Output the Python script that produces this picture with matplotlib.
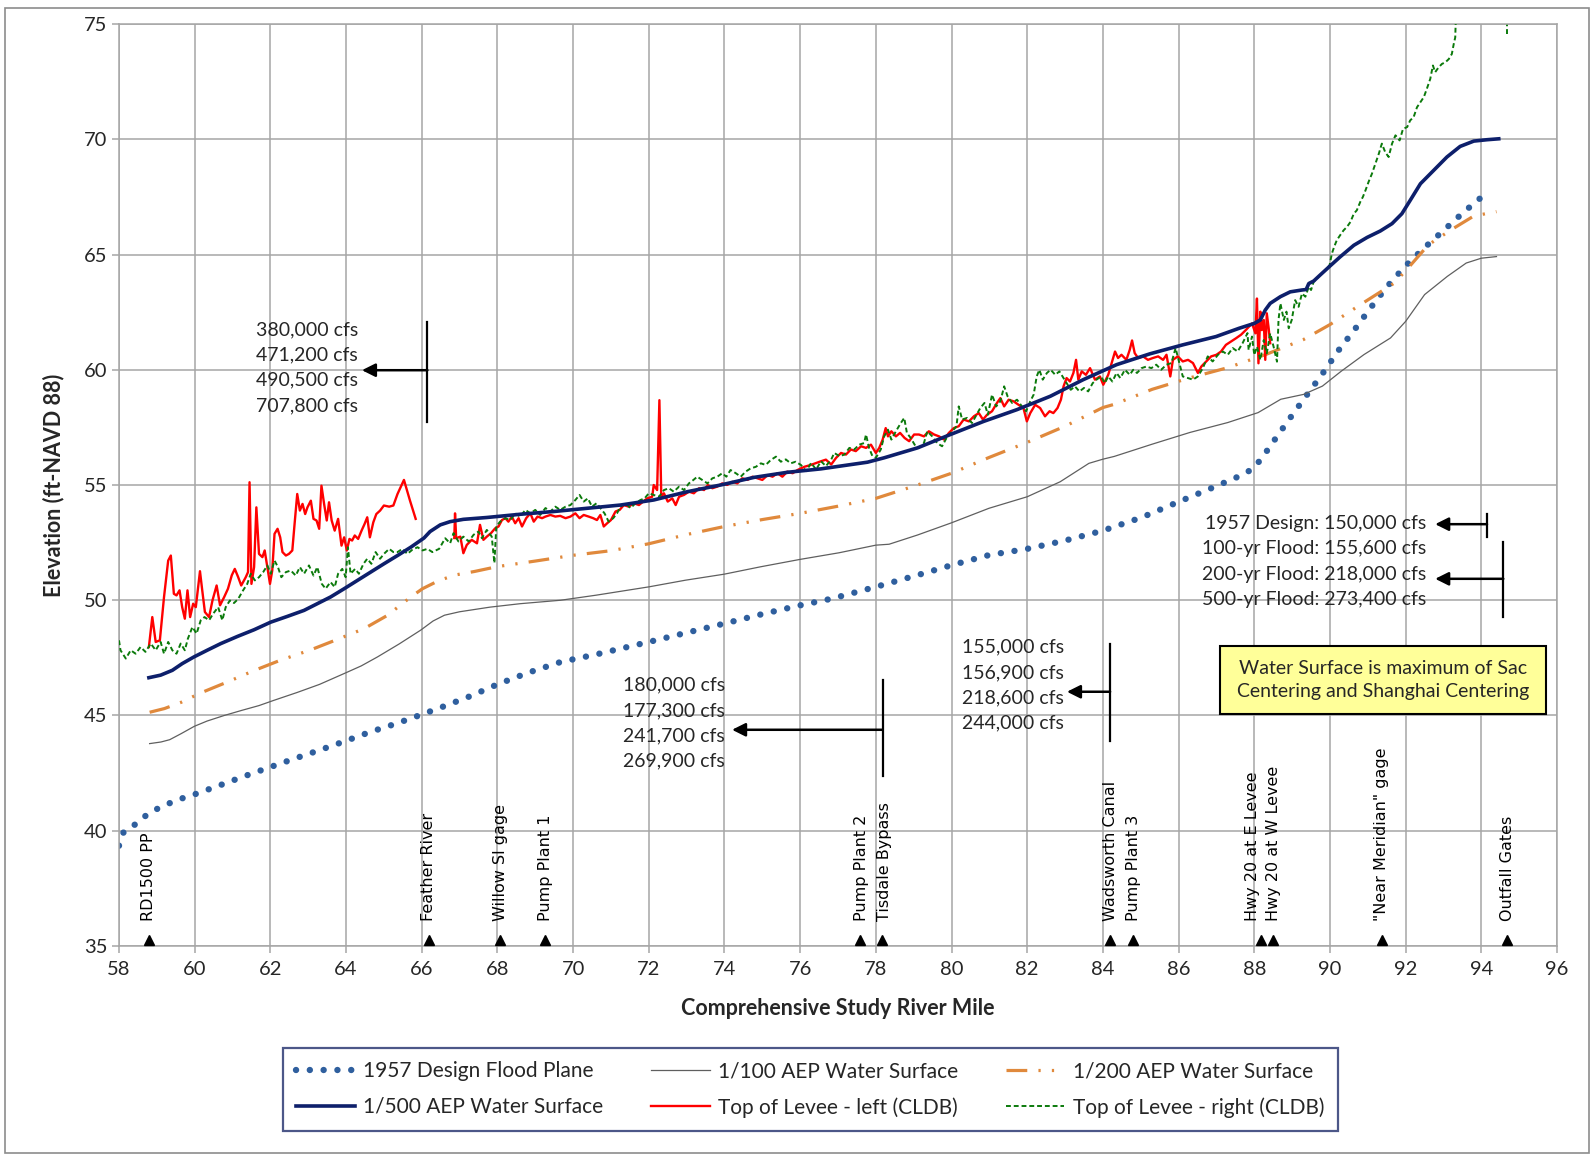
"""
Sutter Bypass water-surface profiles vs. levee crest (CLDB), river mile 58-96.
Flow callouts and site markers follow the original exhibit.
"""
import matplotlib
matplotlib.use("Agg")
import matplotlib.pyplot as plt
from matplotlib.patches import Rectangle

plt.rcParams["font.family"] = ["Lato", "DejaVu Sans"]

# ---------------------------------------------------------------- data
DESIGN_1957 = [
    (58.0, 39.35), (58.12, 39.93), (58.4, 40.24), (58.65, 40.59), (58.96, 40.91),
    (59.3, 41.17), (59.62, 41.38), (59.95, 41.55), (60.63, 41.95), (61.27, 42.34),
    (61.96, 42.74), (62.64, 43.13), (63.29, 43.49), (63.98, 43.89), (64.63, 44.28),
    (65.31, 44.64), (65.98, 45.03), (66.64, 45.43), (67.3, 45.85), (68.0, 46.35),
    (68.8, 46.85), (69.67, 47.32), (70.61, 47.65), (72.0, 48.19), (73.07, 48.62),
    (74.0, 48.99), (75.05, 49.42), (76.0, 49.78), (76.84, 50.07), (78.0, 50.58),
    (79.1, 51.09), (80.0, 51.52), (80.99, 51.96), (82.0, 52.23), (83.0, 52.59),
    (84.0, 53.02), (85.02, 53.59), (86.0, 54.27), (86.98, 54.94), (87.63, 55.4),
    (87.95, 55.69), (88.18, 56.12), (88.58, 57.06), (89.0, 58.03), (89.4, 58.93),
    (89.82, 59.87), (90.23, 60.85), (90.65, 61.74), (91.07, 62.68), (91.5, 63.59),
    (91.98, 64.48), (92.48, 65.27), (93.02, 66.07), (93.52, 66.82), (94.07, 67.58),
]

AEP_100 = [
    (58.81, 43.78), (59.11, 43.85), (59.34, 43.95), (59.64, 44.21), (59.99, 44.53),
    (60.33, 44.76), (60.78, 45.0), (61.24, 45.22), (61.7, 45.43), (62.08, 45.65),
    (62.71, 46.0), (63.3, 46.35), (63.95, 46.82), (64.4, 47.15), (64.83, 47.54),
    (65.4, 48.1), (65.97, 48.7), (66.3, 49.1), (66.6, 49.35), (67.0, 49.5),
    (67.8, 49.7), (68.6, 49.85), (69.67, 50.0), (70.61, 50.22), (72.0, 50.58),
    (72.97, 50.87), (73.99, 51.13), (74.95, 51.45), (75.99, 51.77), (77.03, 52.06),
    (78.0, 52.39), (78.35, 52.43), (79.1, 52.83), (80.0, 53.36), (80.99, 53.99),
    (82.0, 54.49), (82.87, 55.14), (83.63, 55.94), (84.0, 56.12), (84.3, 56.24),
    (85.3, 56.77), (86.3, 57.28), (87.3, 57.71), (88.1, 58.14), (88.7, 58.72),
    (89.3, 58.93), (89.8, 59.29), (90.3, 59.94), (90.9, 60.66), (91.6, 61.38),
    (92.0, 62.1), (92.5, 63.26), (93.1, 64.05), (93.6, 64.63), (94.0, 64.84),
    (94.4, 64.91),
]

AEP_200 = [
    (58.81, 45.14), (59.2, 45.3), (59.64, 45.57), (60.16, 45.98), (60.86, 46.45),
    (61.57, 46.95), (62.27, 47.4), (63.07, 47.85), (63.77, 48.3), (64.48, 48.77),
    (65.09, 49.34), (65.71, 50.14), (66.02, 50.5), (66.46, 50.86), (66.9, 51.1),
    (67.4, 51.25), (68.0, 51.46), (69.0, 51.7), (70.0, 51.95), (71.0, 52.15),
    (72.0, 52.45), (73.0, 52.85), (74.0, 53.2), (75.0, 53.5), (76.0, 53.77),
    (77.0, 54.08), (78.0, 54.42), (79.1, 55.0), (80.0, 55.51), (81.0, 56.2),
    (82.0, 56.85), (83.0, 57.55), (84.0, 58.36), (84.3, 58.5), (85.3, 59.15),
    (86.3, 59.65), (87.3, 60.09), (88.3, 60.66), (89.3, 61.31), (90.0, 61.96),
    (90.8, 62.82), (91.7, 63.76), (92.1, 64.48), (92.6, 65.42), (93.2, 66.07),
    (93.8, 66.67), (94.4, 66.86),
]

AEP_500 = [
    (58.79, 46.64), (59.1, 46.75), (59.41, 46.96), (59.67, 47.25), (59.98, 47.54),
    (60.33, 47.83), (60.69, 48.12), (61.13, 48.43), (61.57, 48.72), (62.01, 49.05),
    (62.45, 49.3), (62.89, 49.56), (63.24, 49.85), (63.59, 50.14), (63.95, 50.5),
    (64.3, 50.86), (64.65, 51.22), (65.0, 51.58), (65.36, 51.94), (65.71, 52.3),
    (66.06, 52.7), (66.22, 52.98), (66.49, 53.27), (66.75, 53.41), (67.1, 53.51),
    (67.72, 53.59), (68.6, 53.73), (69.49, 53.85), (70.37, 53.99), (71.25, 54.13),
    (72.13, 54.35), (73.02, 54.71), (73.9, 55.0), (74.78, 55.33), (75.66, 55.55),
    (76.55, 55.7), (77.78, 55.99), (78.22, 56.18), (79.1, 56.61), (79.97, 57.19),
    (80.85, 57.76), (81.73, 58.27), (82.61, 58.85), (83.48, 59.57), (84.36, 60.22),
    (85.24, 60.69), (86.11, 61.08), (86.99, 61.44), (87.6, 61.8), (88.0, 62.01),
    (88.16, 62.16), (88.29, 62.59), (88.42, 62.88), (88.69, 63.17), (88.95, 63.38),
    (89.26, 63.46), (89.37, 63.48), (89.44, 63.74), (89.57, 63.85), (89.74, 64.11),
    (89.98, 64.47), (90.27, 64.9), (90.63, 65.4), (90.98, 65.74), (91.33, 66.02),
    (91.64, 66.34), (91.9, 66.77), (92.12, 67.35), (92.39, 68.07), (92.74, 68.65),
    (93.09, 69.23), (93.44, 69.69), (93.8, 69.92), (94.15, 69.98), (94.46, 70.02),
]

# top of levee, left bank - two surveyed reaches
LEVEE_LEFT_UPPER = [
    (58.79, 47.97), (58.88, 49.27), (58.97, 48.19), (59.08, 48.26), (59.19, 50.14),
    (59.30, 51.72), (59.37, 51.94), (59.45, 50.28), (59.52, 50.21), (59.60, 50.43),
    (59.67, 49.70), (59.74, 49.20), (59.81, 50.43), (59.88, 49.27), (59.96, 49.85),
    (60.03, 49.70), (60.14, 51.26), (60.20, 50.43), (60.27, 49.49), (60.38, 49.27),
    (60.47, 49.99), (60.58, 50.64), (60.67, 49.78), (60.78, 50.14), (60.88, 50.50),
    (60.98, 51.08), (61.06, 51.36), (61.15, 51.00), (61.23, 50.64), (61.35, 51.00),
    (61.41, 51.22), (61.45, 55.12), (61.50, 50.71), (61.57, 51.44), (61.63, 54.03),
    (61.70, 52.01), (61.79, 51.87), (61.85, 52.16), (61.92, 51.44), (61.99, 50.71),
    (62.05, 51.29), (62.11, 52.88), (62.19, 53.10), (62.26, 52.73), (62.32, 52.09),
    (62.41, 51.94), (62.49, 52.01), (62.58, 52.16), (62.64, 53.31), (62.71, 54.61),
    (62.78, 53.89), (62.85, 54.18), (62.92, 53.74), (62.98, 54.03), (63.07, 54.32),
    (63.14, 53.53), (63.22, 53.46), (63.29, 53.10), (63.35, 54.97), (63.42, 54.18),
    (63.49, 53.46), (63.55, 54.25), (63.62, 53.46), (63.70, 53.02), (63.79, 53.53),
    (63.88, 52.37), (63.95, 52.73), (64.02, 52.16), (64.09, 52.66), (64.16, 52.59),
    (64.23, 52.81), (64.32, 52.66), (64.41, 53.02), (64.49, 53.31), (64.56, 53.60),
    (64.63, 52.73), (64.72, 53.38), (64.80, 53.74), (64.90, 53.89), (65.00, 54.11),
    (65.14, 54.06), (65.25, 54.11), (65.36, 54.61), (65.53, 55.22), (65.69, 54.32),
    (65.84, 53.53),
]

LEVEE_LEFT_LOWER = [
    (66.86, 52.70), (66.88, 53.77), (66.91, 52.69), (67.02, 52.76), (67.10, 52.04),
    (67.19, 52.40), (67.32, 52.62), (67.46, 52.47), (67.54, 53.27), (67.63, 52.62),
    (67.72, 52.76), (67.83, 52.91), (67.94, 53.12), (68.03, 53.20), (68.12, 53.48),
    (68.21, 53.56), (68.29, 53.41), (68.38, 53.63), (68.47, 53.34), (68.56, 53.56),
    (68.65, 53.20), (68.76, 53.56), (68.87, 53.77), (68.96, 53.41), (69.06, 53.63),
    (69.18, 53.56), (69.27, 53.63), (69.40, 53.70), (69.53, 53.63), (69.66, 53.66),
    (69.80, 53.56), (69.93, 53.63), (70.06, 53.77), (70.17, 53.56), (70.28, 53.70),
    (70.41, 53.63), (70.53, 53.56), (70.63, 53.48), (70.72, 53.70), (70.81, 53.20),
    (70.90, 53.34), (71.00, 53.48), (71.12, 53.85), (71.23, 53.92), (71.34, 54.13),
    (71.47, 54.06), (71.60, 54.21), (71.74, 54.13), (71.85, 54.28), (71.96, 54.42),
    (72.09, 54.49), (72.13, 55.00), (72.22, 54.78), (72.28, 58.68), (72.33, 54.49),
    (72.40, 54.64), (72.50, 54.28), (72.62, 54.42), (72.71, 54.13), (72.80, 54.49),
    (72.93, 54.57), (73.06, 54.71), (73.19, 54.64), (73.33, 54.86), (73.46, 54.78),
    (73.56, 55.00), (73.68, 54.86), (73.81, 54.93), (73.94, 55.07), (74.07, 55.00),
    (74.21, 55.14), (74.34, 55.07), (74.47, 55.29), (74.61, 55.22), (74.74, 55.36),
    (74.87, 55.29), (75.00, 55.22), (75.14, 55.43), (75.27, 55.36), (75.40, 55.51),
    (75.53, 55.36), (75.66, 55.58), (75.80, 55.51), (75.93, 55.65), (76.11, 55.79),
    (76.28, 55.87), (76.55, 56.03), (76.68, 56.10), (76.82, 55.89), (76.95, 56.18),
    (77.08, 56.39), (77.21, 56.32), (77.34, 56.54), (77.47, 56.47), (77.61, 56.68),
    (77.74, 56.61), (77.87, 56.75), (78.00, 56.39), (78.09, 56.61), (78.18, 56.97),
    (78.26, 57.47), (78.32, 57.11), (78.41, 57.33), (78.53, 57.11), (78.64, 57.26),
    (78.76, 57.04), (78.88, 56.90), (79.01, 57.19), (79.14, 57.19), (79.27, 57.11),
    (79.40, 57.33), (79.54, 57.19), (79.67, 57.11), (79.80, 56.97), (79.93, 57.26),
    (80.06, 57.47), (80.19, 57.55), (80.32, 57.84), (80.46, 57.76), (80.59, 57.98),
    (80.72, 58.12), (80.83, 57.84), (80.94, 58.05), (81.07, 58.20), (81.20, 58.56),
    (81.29, 58.77), (81.39, 58.41), (81.51, 58.70), (81.64, 58.63), (81.77, 58.48),
    (81.90, 58.34), (81.99, 57.76), (82.08, 58.12), (82.21, 58.48), (82.34, 58.34),
    (82.47, 57.98), (82.59, 58.20), (82.69, 58.12), (82.80, 58.34), (82.89, 58.70),
    (82.96, 59.28), (83.04, 59.64), (83.13, 59.49), (83.22, 59.86), (83.29, 60.43),
    (83.35, 59.57), (83.44, 59.93), (83.55, 59.78), (83.66, 60.07), (83.79, 59.57),
    (83.92, 59.71), (84.01, 59.35), (84.14, 59.78), (84.23, 60.29), (84.32, 60.79),
    (84.40, 60.51), (84.49, 60.65), (84.62, 60.43), (84.71, 60.87), (84.77, 61.27),
    (84.84, 60.72), (84.93, 60.51), (85.06, 60.58), (85.19, 60.43), (85.32, 60.51),
    (85.46, 60.58), (85.59, 60.43), (85.68, 60.65), (85.78, 59.71), (85.85, 60.43),
    (85.98, 60.58), (86.11, 60.36), (86.25, 60.43), (86.38, 60.29), (86.51, 59.86),
    (86.60, 60.14), (86.73, 60.36), (86.86, 60.58), (87.00, 60.65), (87.12, 60.79),
    (87.25, 61.08), (87.39, 61.23), (87.52, 61.37), (87.65, 61.52), (87.78, 61.73),
    (87.94, 62.01), (88.03, 61.58), (88.07, 63.09), (88.11, 60.28), (88.16, 62.52),
    (88.20, 61.72), (88.25, 62.16), (88.29, 60.43), (88.33, 62.45), (88.38, 61.80),
    (88.42, 61.15),
]

LEVEE_RIGHT = [
    (58.00, 48.26), (58.04, 47.83), (58.18, 47.47), (58.31, 47.83), (58.44, 47.68),
    (58.57, 47.97), (58.70, 47.76), (58.84, 48.12), (58.97, 47.83), (59.10, 48.19),
    (59.19, 47.68), (59.30, 48.19), (59.41, 47.83), (59.52, 47.68), (59.63, 48.12),
    (59.74, 47.83), (59.82, 48.33), (59.94, 48.84), (60.05, 48.55), (60.16, 49.13),
    (60.26, 49.27), (60.38, 49.13), (60.49, 49.42), (60.62, 49.70), (60.73, 49.13),
    (60.82, 49.70), (60.93, 49.99), (61.04, 49.88), (61.15, 50.06), (61.28, 50.43),
    (61.39, 50.71), (61.48, 51.15), (61.59, 50.86), (61.70, 51.00), (61.81, 51.22),
    (61.92, 51.51), (62.01, 51.15), (62.11, 51.72), (62.20, 51.44), (62.29, 51.00),
    (62.41, 51.22), (62.54, 51.29), (62.67, 51.07), (62.78, 51.44), (62.89, 51.15),
    (63.02, 51.51), (63.14, 51.07), (63.24, 51.44), (63.36, 50.71), (63.46, 50.50),
    (63.59, 50.79), (63.70, 50.57), (63.79, 51.15), (63.90, 51.36), (63.99, 51.00),
    (64.05, 52.30), (64.12, 51.15), (64.24, 51.36), (64.34, 51.15), (64.46, 51.58),
    (64.56, 51.80), (64.67, 51.58), (64.78, 52.09), (64.90, 51.80), (65.00, 52.01),
    (65.14, 52.23), (65.25, 52.09), (65.36, 52.09), (65.49, 52.23), (65.62, 52.01),
    (65.75, 52.19), (65.89, 52.30), (66.02, 52.16), (66.15, 52.23), (66.28, 52.09),
    (66.46, 52.23), (66.62, 52.69), (66.75, 52.47), (66.84, 52.91), (66.97, 52.55),
    (67.10, 52.76), (67.24, 52.55), (67.37, 52.84), (67.50, 52.98), (67.59, 52.69),
    (67.72, 53.05), (67.85, 52.76), (67.92, 51.61), (67.97, 53.20), (68.07, 53.41),
    (68.21, 53.56), (68.34, 53.48), (68.47, 53.77), (68.60, 53.63), (68.74, 53.92),
    (68.87, 53.77), (69.00, 53.92), (69.13, 53.70), (69.27, 54.00), (69.40, 53.85),
    (69.53, 54.06), (69.66, 53.92), (69.80, 54.06), (69.93, 54.13), (70.06, 54.35),
    (70.17, 54.57), (70.28, 54.28), (70.39, 54.42), (70.50, 54.06), (70.62, 54.21),
    (70.72, 54.00), (70.83, 53.77), (70.94, 53.41), (71.06, 53.56), (71.16, 53.77),
    (71.25, 54.06), (71.38, 54.21), (71.52, 54.00), (71.65, 54.21), (71.78, 54.35),
    (71.89, 54.42), (72.00, 54.64), (72.13, 54.57), (72.27, 54.49), (72.40, 54.78),
    (72.53, 54.86), (72.66, 54.71), (72.80, 54.93), (72.93, 54.78), (73.06, 55.07),
    (73.18, 55.22), (73.28, 55.36), (73.41, 55.22), (73.55, 55.07), (73.68, 55.29),
    (73.81, 55.36), (73.94, 55.51), (74.05, 55.36), (74.16, 55.65), (74.30, 55.51),
    (74.43, 55.36), (74.56, 55.58), (74.69, 55.72), (74.83, 55.79), (74.96, 55.94),
    (75.09, 55.87), (75.22, 56.08), (75.36, 56.23), (75.49, 56.01), (75.62, 56.11),
    (75.75, 55.94), (75.88, 56.01), (76.02, 55.87), (76.16, 55.60), (76.29, 55.96),
    (76.42, 55.67), (76.55, 56.03), (76.68, 55.82), (76.82, 56.10), (76.90, 56.39),
    (77.04, 56.25), (77.17, 56.32), (77.30, 56.61), (77.43, 56.54), (77.56, 56.75),
    (77.69, 56.82), (77.74, 57.19), (77.82, 56.61), (77.91, 56.25), (78.00, 56.18),
    (78.13, 56.54), (78.22, 57.11), (78.32, 57.40), (78.41, 56.97), (78.53, 57.33),
    (78.66, 57.69), (78.75, 57.91), (78.82, 57.26), (78.92, 57.04), (79.05, 56.68),
    (79.14, 56.61), (79.27, 56.82), (79.36, 57.33), (79.49, 57.11), (79.62, 56.82),
    (79.75, 56.68), (79.89, 57.11), (80.02, 57.33), (80.13, 57.55), (80.19, 58.41),
    (80.28, 57.84), (80.41, 57.91), (80.54, 57.69), (80.66, 58.05), (80.76, 58.34),
    (80.87, 58.56), (80.96, 58.05), (81.07, 58.92), (81.18, 58.41), (81.29, 58.63),
    (81.39, 59.28), (81.48, 58.85), (81.60, 58.56), (81.73, 58.70), (81.86, 58.41),
    (81.97, 58.20), (82.08, 58.63), (82.17, 58.92), (82.25, 59.71), (82.32, 60.00),
    (82.41, 59.57), (82.52, 59.86), (82.62, 60.00), (82.74, 59.78), (82.85, 59.93),
    (82.96, 59.64), (83.04, 59.42), (83.15, 59.13), (83.26, 59.28), (83.38, 59.06),
    (83.50, 59.21), (83.61, 59.06), (83.73, 59.42), (83.83, 59.57), (83.95, 59.71),
    (84.05, 59.42), (84.14, 59.71), (84.25, 59.49), (84.36, 59.86), (84.46, 59.64),
    (84.58, 60.00), (84.71, 59.78), (84.80, 60.00), (84.90, 59.86), (85.02, 60.07),
    (85.15, 60.14), (85.28, 60.07), (85.41, 60.22), (85.54, 60.00), (85.68, 60.22),
    (85.81, 60.29), (85.92, 60.94), (86.01, 60.36), (86.11, 59.71), (86.25, 59.64),
    (86.38, 59.57), (86.51, 59.71), (86.64, 60.07), (86.77, 60.58), (86.90, 60.36),
    (87.04, 60.65), (87.17, 60.79), (87.30, 60.65), (87.43, 60.94), (87.56, 60.79),
    (87.69, 61.15), (87.82, 61.59), (87.85, 60.86), (87.94, 61.44), (88.00, 60.64),
    (88.07, 61.00), (88.16, 60.43), (88.25, 61.29), (88.33, 60.71), (88.42, 61.58),
    (88.51, 61.00), (88.60, 60.35), (88.64, 62.16), (88.69, 62.88), (88.78, 62.16),
    (88.85, 62.52), (88.91, 61.80), (88.99, 62.16), (89.08, 63.02), (89.17, 62.73),
    (89.26, 63.31), (89.35, 63.17), (89.44, 63.60), (89.50, 63.46), (89.57, 63.82),
    (89.66, 63.96), (89.74, 64.11), (89.83, 64.25), (89.92, 64.39), (89.99, 64.54),
    (90.05, 65.04), (90.11, 65.33), (90.18, 65.62), (90.27, 65.84), (90.36, 66.05),
    (90.45, 66.20), (90.54, 66.41), (90.63, 66.77), (90.71, 66.92), (90.80, 67.28),
    (90.87, 67.50), (90.94, 67.79), (91.02, 68.15), (91.11, 68.51), (91.20, 68.94),
    (91.29, 69.37), (91.37, 69.81), (91.46, 69.44), (91.55, 69.23), (91.64, 69.81),
    (91.73, 70.17), (91.84, 69.95), (91.93, 70.45), (92.04, 70.53), (92.12, 70.82),
    (92.21, 70.96), (92.30, 71.39), (92.39, 71.61), (92.48, 71.83), (92.56, 72.19),
    (92.65, 72.62), (92.72, 73.20), (92.78, 72.91), (92.87, 73.12), (92.96, 73.27),
    (93.05, 73.34), (93.14, 73.48), (93.22, 73.70), (93.27, 74.13), (93.31, 74.42),
    (93.32, 75.00), (93.34, 76.00),
]
LEVEE_RIGHT_TAIL = [(94.68, 74.55), (94.68, 76.0)]

X_TICKS = list(range(58, 97, 2))
Y_TICKS = list(range(35, 76, 5))

# (label, marker river mile, label river mile)
SITES = [
    ("RD1500 PP", 58.78, 58.78),
    ("Feather River", 66.18, 66.18),
    ("Willow Sl gage", 68.07, 68.07),
    ("Pump Plant 1", 69.27, 69.27),
    ("Pump Plant 2", 77.58, 77.62),
    ("Tisdale Bypass", 78.15, 78.22),
    ("Wadsworth Canal", 84.20, 84.20),
    ("Pump Plant 3", 84.79, 84.82),
    ("Hwy 20 at E Levee", 88.17, 87.95),
    ("Hwy 20 at W Levee", 88.49, 88.50),
    ('"Near Meridian" gage', 91.37, 91.37),
    ("Outfall Gates", 94.69, 94.69),
]

# flow callouts: lines, text x, first line y, bar x, bar y0, bar y1, arrow y, arrow tip x
FLOW_NOTES = [
    (["380,000 cfs", "471,200 cfs", "490,500 cfs", "707,800 cfs"],
     61.62, 61.75, 66.15, 57.75, 62.05, 59.98, 64.42),
    (["180,000 cfs", "177,300 cfs", "241,700 cfs", "269,900 cfs"],
     71.31, 46.31, 78.18, 42.36, 46.54, 44.38, 74.2),
    (["155,000 cfs", "156,900 cfs", "218,600 cfs", "244,000 cfs"],
     80.28, 47.97, 84.19, 43.9, 48.12, 46.03, 83.05),
]
DESIGN_NOTE = ["1957 Design: 150,000 cfs", "100-yr Flood: 155,600 cfs",
               "200-yr Flood: 218,000 cfs", "500-yr Flood: 273,400 cfs"]
BOX_TEXT = "Water Surface is maximum of Sac\nCentering and Shanghai Centering"

C_DESIGN = "#2F5F9E"
C_100 = "#5F5F5F"
C_200 = "#E0893C"
C_500 = "#0D1F6B"
C_LEFT = "#FF0000"
C_RIGHT = "#0B7A0B"
GRID = "#A6A6A6"
TXT = "#262626"


def xy(pts):
    return [p[0] for p in pts], [p[1] for p in pts]


fig = plt.figure(figsize=(15.95, 11.6), dpi=100)
ax = fig.add_axes([0.0746, 0.1845, 0.9016, 0.7948])

h_design, = ax.plot(*xy(DESIGN_1957), color=C_DESIGN, lw=4.6,
                    linestyle=(0, (0.01, 2.15)), dash_capstyle="round",
                    label="1957 Design Flood Plane")
h_100, = ax.plot(*xy(AEP_100), color=C_100, lw=0.9, label="1/100 AEP Water Surface")
h_200, = ax.plot(*xy(AEP_200), color=C_200, lw=2.3,
                 linestyle=(0, (6.5, 3.5, 0.7, 3.5, 0.7, 3.5)),
                 label="1/200 AEP Water Surface")
h_500, = ax.plot(*xy(AEP_500), color=C_500, lw=2.6, label="1/500 AEP Water Surface",
                 zorder=4)
h_left, = ax.plot(*xy(LEVEE_LEFT_UPPER), color=C_LEFT, lw=1.7,
                  label="Top of Levee - left (CLDB)", zorder=3)
ax.plot(*xy(LEVEE_LEFT_LOWER), color=C_LEFT, lw=1.7, zorder=3)
h_right, = ax.plot(*xy(LEVEE_RIGHT), color=C_RIGHT, lw=1.4,
                   linestyle=(0, (2.5, 1.5)), label="Top of Levee - right (CLDB)",
                   zorder=3.5)
ax.plot(*xy(LEVEE_RIGHT_TAIL), color=C_RIGHT, lw=1.4, linestyle=(0, (2.5, 1.5)))

ax.set_xlim(58, 96)
ax.set_ylim(35, 75)
ax.set_xticks(X_TICKS)
ax.set_yticks(Y_TICKS)
ax.grid(True, color=GRID, lw=1.1)
ax.set_axisbelow(True)
for sp in ax.spines.values():
    sp.set_color(GRID)
    sp.set_linewidth(1.1)
ax.tick_params(colors=GRID, labelcolor=TXT, labelsize=14.5, length=5, width=1.1)
ax.tick_params(axis="x", pad=6)
ax.set_xlabel("Comprehensive Study River Mile", fontsize=15.5, fontweight="bold",
              color=TXT, labelpad=14)
ax.set_ylabel("Elevation (ft-NAVD 88)", fontsize=15.5, fontweight="bold",
              color=TXT, labelpad=14)

# flow callouts
arrow_kw = dict(arrowstyle="-|>", color="black", lw=1.8, mutation_scale=20,
                shrinkA=0, shrinkB=0)
for lines, tx, ty, bx, by0, by1, ay, tip in FLOW_NOTES:
    for i, s in enumerate(lines):
        ax.text(tx, ty - 1.1 * i, s, fontsize=14, color=TXT, ha="left", va="center")
    ax.plot([bx, bx], [by0, by1], color="black", lw=1.6)
    ax.annotate("", xy=(tip, ay), xytext=(bx, ay), arrowprops=arrow_kw)

for i, s in enumerate(DESIGN_NOTE):
    ax.text(92.55, 53.33 - 1.1 * i, s, fontsize=14, color=TXT, ha="right", va="center")
ax.plot([94.15, 94.15], [52.76, 53.75], color="black", lw=1.6)
ax.annotate("", xy=(92.78, 53.3), xytext=(94.15, 53.3), arrowprops=arrow_kw)
ax.plot([94.58, 94.58], [49.28, 52.52], color="black", lw=1.6)
ax.annotate("", xy=(92.78, 50.93), xytext=(94.58, 50.93), arrowprops=arrow_kw)

ax.add_patch(Rectangle((87.1, 45.05), 8.6, 2.98, facecolor="#FFFF99",
                       edgecolor="black", lw=1.5, zorder=5))
ax.text(91.4, 46.54, BOX_TEXT, fontsize=14, color=TXT, ha="center", va="center",
        linespacing=1.4, zorder=6)

# sites along the bypass
for name, mx, lx in SITES:
    ax.text(lx, 36.1, name, rotation=90, ha="center", va="bottom", fontsize=11.5,
            family="DejaVu Sans", color="black")
ax.plot([s[1] for s in SITES], [35.27] * len(SITES), linestyle="none", marker="^",
        color="black", markersize=7.5, clip_on=False, zorder=6)

leg = fig.legend(handles=[h_design, h_500, h_100, h_left, h_200, h_right],
                 ncol=3, loc="center", bbox_to_anchor=(0.508, 0.0608),
                 fontsize=15, frameon=True, fancybox=False,
                 handlelength=2.8, handletextpad=0.4, labelspacing=0.75,
                 borderpad=0.65, borderaxespad=0.0, columnspacing=2.3)
leg.get_frame().set_edgecolor("#1F2D6B")
leg.get_frame().set_linewidth(1.6)
for t in leg.get_texts():
    t.set_color(TXT)

fig.add_artist(Rectangle((0.003, 0.006), 0.993, 0.987, transform=fig.transFigure,
                         fill=False, edgecolor="#8C8C8C", lw=1.2))

fig.savefig("out.png", dpi=100)
